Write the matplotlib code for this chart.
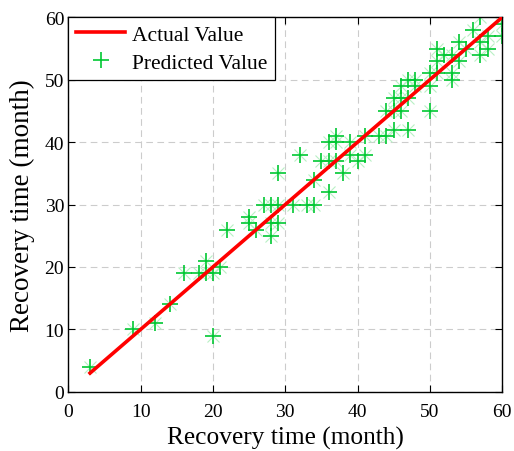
import matplotlib
matplotlib.use("Agg")
import matplotlib.pyplot as plt

# actual vs predicted recovery time (months)
actual = [3, 9, 12, 14, 16, 18, 19, 19, 20, 21, 20, 22, 25, 25, 26,
          27, 28, 29, 28, 29, 28, 29, 31, 33, 34, 32, 34, 36, 35, 36,
          37, 36, 37, 37, 38, 39, 39, 40, 41, 41, 43, 44, 44, 45, 45,
          45, 46, 46, 46, 47, 47, 47, 48, 48, 50, 50, 50, 51, 51, 51,
          52, 53, 53, 53, 54, 54, 55, 56, 57, 57, 57, 58, 58, 60, 60]
predicted = [4, 10, 11, 14, 19, 19, 21, 19, 19, 20, 9, 26, 28, 27, 26,
             30, 30, 30, 27, 27, 25, 35, 30, 30, 30, 38, 34, 32, 37, 37,
             37, 40, 41, 40, 35, 38, 40, 37, 38, 41, 41, 41, 45, 47, 45,
             42, 49, 47, 45, 50, 42, 47, 49, 50, 49, 45, 51, 55, 53, 51,
             54, 50, 51, 54, 53, 56, 55, 58, 60, 56, 54, 55, 57, 59, 57]
line_x = [3, 60]
ticks = [0, 10, 20, 30, 40, 50, 60]

plt.rcParams['font.family'] = ['Liberation Serif', 'DejaVu Serif']

fig = plt.figure(figsize=(5.14, 4.52), dpi=100)
ax = fig.add_axes([0.133, 0.131, 0.844, 0.8285])

green = '#00c832'
ax.plot(line_x, line_x, color='red', lw=2.6, label='Actual Value', zorder=3)
# faint diagonal strokes of the asterisk-like marker
ax.plot(actual, predicted, ls='none', marker='x', ms=8, mew=0.8,
        color='#b8f0c4', zorder=2)
ax.plot(actual, predicted, ls='none', marker='+', ms=11, mew=1.2,
        color=green, label='Predicted Value', zorder=2)

ax.set_xlim(0, 60)
ax.set_ylim(0, 60)
ax.set_xticks(ticks)
ax.set_yticks(ticks)
ax.tick_params(direction='in', length=5, width=0.8, top=True, right=True,
               labelsize=14)
ax.tick_params(axis='x', pad=8)
ax.tick_params(axis='y', pad=3)
ax.grid(True, ls=(0, (6, 4)), color='#cccccc', lw=0.8)
for s in ax.spines.values():
    s.set_linewidth(1.0)

ax.set_xlabel('Recovery time (month)', fontsize=18.3, labelpad=4)
ax.set_ylabel('Recovery time (month)', fontsize=19.5, labelpad=7)

leg = ax.legend(loc='upper left', borderaxespad=0, fontsize=15.5,
                handlelength=2.3, handletextpad=0.3, labelspacing=0.35,
                fancybox=False, framealpha=1, borderpad=0.35)
leg.get_frame().set_edgecolor('black')
leg.get_frame().set_linewidth(0.9)

fig.savefig('out.png', dpi=100)
